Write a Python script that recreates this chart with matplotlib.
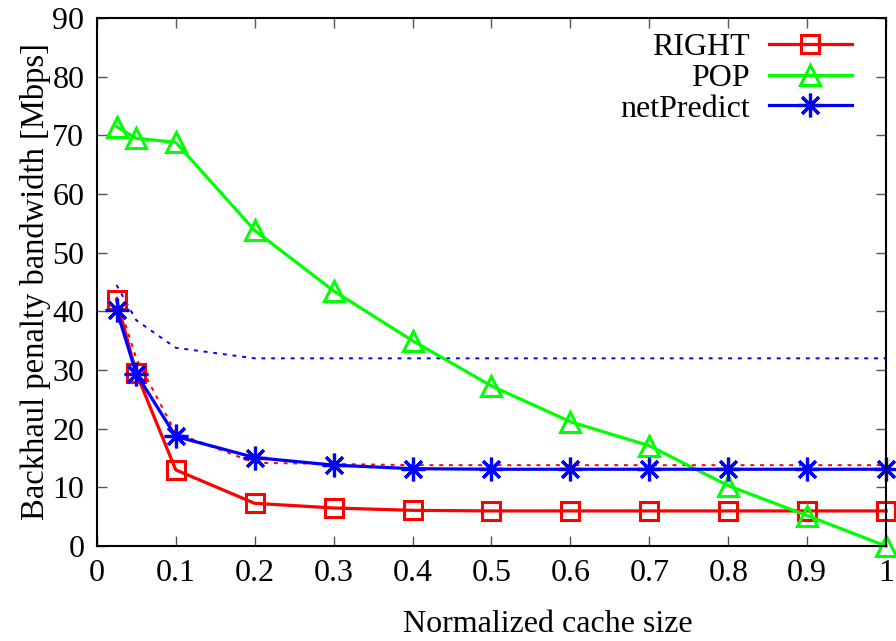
import matplotlib
matplotlib.use('Agg')
import matplotlib.pyplot as plt

plt.rcParams['font.family'] = ['Liberation Serif', 'DejaVu Serif']
plt.rcParams['mathtext.fontset'] = 'stix'

cache = [0.025, 0.05, 0.1, 0.2, 0.3, 0.4, 0.5, 0.6, 0.7, 0.8, 0.9, 1.0]
right = [42.0, 29.5, 13.0, 7.3, 6.5, 6.1, 6.0, 6.0, 6.0, 6.0, 6.0, 6.0]
pop = [71.5, 69.5, 68.8, 53.8, 43.5, 35.0, 27.3, 21.2, 17.1, 10.3, 5.2, 0.0]
netpredict = [40.3, 29.4, 18.7, 15.1, 13.8, 13.2, 13.1, 13.1, 13.1, 13.1, 13.1, 13.1]
right_bound = [42.5, 32.0, 19.3, 14.2, 14.0, 13.8, 13.8, 13.8, 13.8, 13.8, 13.8, 13.8]
net_bound = [44.5, 38.5, 33.8, 32.0, 32.0, 32.0, 32.0, 32.0, 32.0, 32.0, 32.0, 32.0]

fig = plt.figure(figsize=(8.96, 6.41), dpi=100)
ax = fig.add_axes([0.108, 0.148, 0.881, 0.824])

ax.plot(cache, right_bound, color='#ff0000', lw=1.4, ls=(0, (2, 3)))
ax.plot(cache, net_bound, color='#0000ff', lw=1.4, ls=(0, (2, 3)))

ax.plot(cache, right, color='#ff0000', lw=2.3, marker='s', ms=13,
        mfc='none', mec='#ff0000', mew=2.2, label='RIGHT', clip_on=False)
ax.plot(cache, pop, color='#00ff00', lw=2.3, marker='^', ms=14,
        mfc='none', mec='#00ff00', mew=2.2, label='POP', clip_on=False)
ax.plot(cache, netpredict, color='#0000ff', lw=2.3, marker=(8, 2, 0), ms=17,
        mec='#0000ff', mew=2.3, label='netPredict', clip_on=False)

ax.set_xlim(0, 1)
ax.set_ylim(0, 90)
ax.set_xticks([i / 10 for i in range(11)])
ax.set_xticklabels(['0', '0.1', '0.2', '0.3', '0.4', '0.5', '0.6', '0.7', '0.8', '0.9', '1'])
ax.set_yticks(range(0, 91, 10))
ax.tick_params(direction='in', length=7, width=1, top=True, right=True,
               labelsize=23, pad=9, color='#555555')
for s in ax.spines.values():
    s.set_linewidth(1.5)

ax.set_xlabel('Normalized cache size', fontsize=23)
ax.xaxis.label.set_va('baseline')
ax.xaxis.set_label_coords(0.572, -0.163)
ax.set_ylabel('Backhaul penalty bandwidth [Mbps]', fontsize=23.5, labelpad=1)

leg = ax.legend(loc='upper right', frameon=False, markerfirst=False, fontsize=23,
                handlelength=2.6, handletextpad=0.6, labelspacing=0.05,
                borderaxespad=0.3, bbox_to_anchor=(0.985, 1.015))

fig.savefig('out.png', dpi=100)
